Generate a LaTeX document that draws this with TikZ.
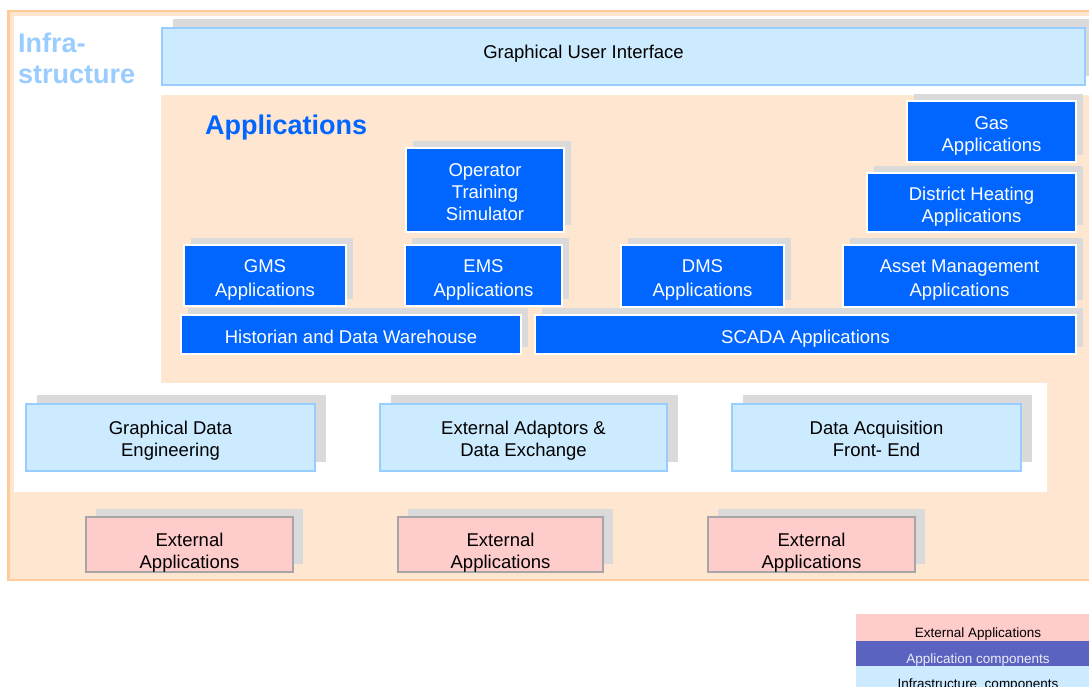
\documentclass[tikz,border=0pt]{standalone}
\usepackage{fontspec}
\setmainfont{Liberation Sans}
\usetikzlibrary{shadows}

\definecolor{appblue}{HTML}{0066FF}
\definecolor{infrafill}{HTML}{CCEBFF}
\definecolor{infraline}{HTML}{99CCFF}
\definecolor{extfill}{HTML}{FFCCCC}
\definecolor{extline}{HTML}{A6A6A6}
\definecolor{peach}{HTML}{FEE6D0}
\definecolor{frameline}{HTML}{FFCC99}
\definecolor{shadowgray}{HTML}{DADADA}
\definecolor{legendblue}{HTML}{5B63C0}

% struts for the first and the last line of a box
\newcommand{\setstruts}[2]{\def\tstrut{\rule{0pt}{#1}}\def\bstrut{\rule[-#2]{0pt}{#2}}}

\tikzset{
  boxtext/.style={inner sep=0pt, align=center, font=\fontsize{18.5}{22}\selectfont},
  appbox/.style={boxtext, draw=white, line width=1.5pt, fill=appblue, text=white,
    execute at begin node={\setstruts{21pt}{4pt}},
    drop shadow={shadow xshift=7pt, shadow yshift=7pt, fill=shadowgray, opacity=1}},
  infrabox/.style={boxtext, draw=infraline, line width=2pt, fill=infrafill,
    execute at begin node={\setstruts{19pt}{4pt}},
    drop shadow={shadow xshift=11pt, shadow yshift=9pt, fill=shadowgray, opacity=1}},
  extbox/.style={boxtext, draw=extline, line width=2pt, fill=extfill,
    execute at begin node={\setstruts{29pt}{1.5pt}},
    drop shadow={shadow xshift=10pt, shadow yshift=8pt, fill=shadowgray, opacity=1}},
  legendbox/.style={inner sep=0pt, minimum width=244pt, font=\fontsize{13.5}{16}\selectfont,
    text height=19.5pt, text depth=0pt},
  rowtwo/.style={font=\fontsize{18.5}{24}\selectfont},
  title/.style={inner sep=0pt, font=\fontsize{27}{31}\selectfont\bfseries}
}

\begin{document}
\begin{tikzpicture}[x=1pt,y=-1pt]

  \useasboundingbox (0,0) rectangle (1089,686);

  % frame and white infrastructure area
  \filldraw[fill=peach, draw=frameline, line width=2.5pt] (8.5,11) rectangle (1110,580);
  \fill[white] (14,16) -- (1110,16) -- (1110,95) -- (161,95) -- (161,383)
    -- (1047,383) -- (1047,492) -- (14,492) -- cycle;

  \node[title, text=infraline, align=left, anchor=north west] (infra) at (18,33) {Infra-\\structure};
  \node[title, text=appblue, anchor=base west] (apps) at (205,134) {Applications};

  \begin{scope}[every node/.style={infrabox}]
    \node[minimum width=923pt, minimum height=57pt, execute at begin node={\setstruts{13.5pt}{8pt}}]
      (gui) at (623.5,56) {\tstrut Graphical User Interface\hspace*{80pt}\bstrut};
  \end{scope}

  \begin{scope}[every node/.style={appbox}]
    \node[minimum width=169pt, minimum height=61pt] (gas)   at (991.5,131.5) {\tstrut Gas\\Applications\bstrut};
    \node[minimum width=158pt, minimum height=84pt] (ots)   at (485,190)     {\tstrut Operator\\Training\\Simulator\bstrut};
    \node[minimum width=209pt, minimum height=59pt] (dh)    at (971.5,202.5) {\tstrut District Heating\\Applications\bstrut};
    \node[rowtwo, minimum width=162pt, minimum height=61pt] (gms)   at (265,275.5)   {\tstrut GMS\\Applications\bstrut};
    \node[rowtwo, minimum width=157pt, minimum height=61pt] (ems)   at (483.5,275.5) {\tstrut EMS\\Applications\bstrut};
    \node[rowtwo, minimum width=163pt, minimum height=62pt] (dms)   at (702.5,276)   {\tstrut DMS\\Applications\bstrut};
    \node[rowtwo, minimum width=233pt, minimum height=62pt] (asset) at (959.5,276)   {\tstrut Asset Management\\Applications\bstrut};
    \node[minimum width=340pt, minimum height=39pt] (hist)  at (351,334.5)   {\tstrut Historian and Data Warehouse\bstrut};
    \node[minimum width=541pt, minimum height=39pt] (scada) at (805.5,334.5) {\tstrut SCADA Applications\bstrut};
  \end{scope}

  \begin{scope}[every node/.style={infrabox, minimum height=67pt}]
    \node[minimum width=289pt] (gde) at (170.5,437.5) {\tstrut Graphical Data\\Engineering\bstrut};
    \node[minimum width=287pt] (ead) at (523.5,437.5) {\tstrut External Adaptors \&\\Data Exchange\bstrut};
    \node[minimum width=289pt] (daq) at (876.5,437.5) {\tstrut Data Acquisition\\Front- End\bstrut};
  \end{scope}

  \begin{scope}[every node/.style={extbox, minimum height=53pt}]
    \node[minimum width=207pt] (ext1) at (189.5,544.5) {\tstrut External\\Applications\bstrut};
    \node[minimum width=205pt] (ext2) at (500.5,544.5) {\tstrut External\\Applications\bstrut};
    \node[minimum width=207pt] (ext3) at (811.5,544.5) {\tstrut External\\Applications\bstrut};
  \end{scope}

  % legend
  \begin{scope}[every node/.style={legendbox}]
    \node[fill=extfill, minimum height=27pt] (leg1) at (978,627.5) {External Applications};
    \node[fill=legendblue, text=white!88!legendblue, minimum height=25pt] (leg2) at (978,653.5) {Application components};
    \node[fill=infrafill, minimum height=26pt] (leg3) at (978,679) {Infrastructure\ \ components};
  \end{scope}

\end{tikzpicture}
\end{document}
